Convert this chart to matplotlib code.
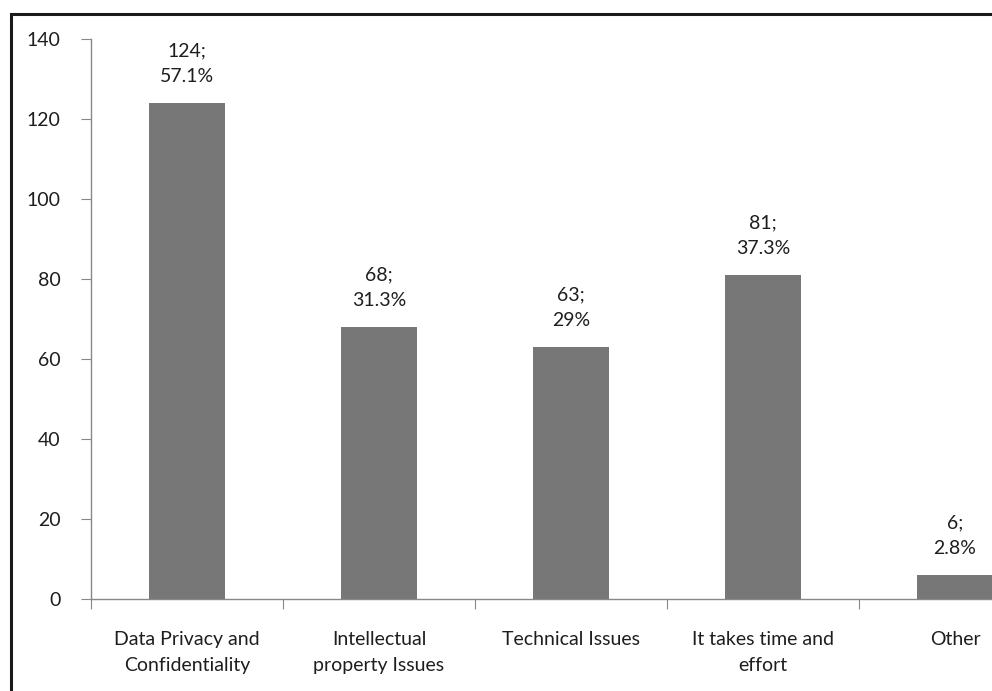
import matplotlib.pyplot as plt
from matplotlib.patches import Rectangle
import numpy as np

categories = ["Data Privacy and\nConfidentiality", "Intellectual\nproperty Issues",
              "Technical Issues", "It takes time and\neffort", "Other"]
counts = [124, 68, 63, 81, 6]
percents = ["57.1%", "31.3%", "29%", "37.3%", "2.8%"]

plt.rcParams['font.family'] = ['Lato', 'DejaVu Sans']
grey = "#888888"
txt = "#1e1e1e"
fs = 14

fig = plt.figure(figsize=(9.92, 6.91), dpi=100)
# axes runs past the right edge, like the cropped original
ax = fig.add_axes([91 / 992, 92 / 691, 960 / 992, 560 / 691])

x = np.arange(len(categories))
ax.bar(x, counts, width=0.4, color="#777777", zorder=2)

for xi, c, p in zip(x, counts, percents):
    ax.text(xi, c + 4.5, f"{c};\n{p}", ha="center", va="bottom",
            fontsize=fs, color=txt, linespacing=1.65)

ax.set_xlim(-0.5, len(categories) - 0.5)
ax.set_ylim(0, 140)
ax.set_yticks(range(0, 141, 20))
ax.set_xticks(np.arange(-0.5, len(categories), 1.0))
ax.set_xticklabels([])
ax.set_xticks(x, minor=True)
ax.set_xticklabels(categories, minor=True, fontsize=fs, color=txt,
                   linespacing=1.65)
ax.tick_params(axis="x", which="minor", length=0, pad=23)
ax.tick_params(axis="x", which="major", length=7, color=grey, direction="out")
ax.tick_params(axis="y", length=7, color=grey, direction="out", labelsize=fs,
               labelcolor=txt, pad=15)

for s in ["top", "right"]:
    ax.spines[s].set_visible(False)
for s in ["left", "bottom"]:
    ax.spines[s].set_color(grey)
    ax.spines[s].set_linewidth(1.0)

# outer frame, only top and left edges visible in the crop
fig.patches.append(Rectangle((11 / 992, -0.1), 1.2, (691 - 14) / 691 + 0.1,
                             transform=fig.transFigure, fill=False,
                             edgecolor="#1a1a1a", linewidth=2.2))

fig.savefig("out.png", dpi=100)
